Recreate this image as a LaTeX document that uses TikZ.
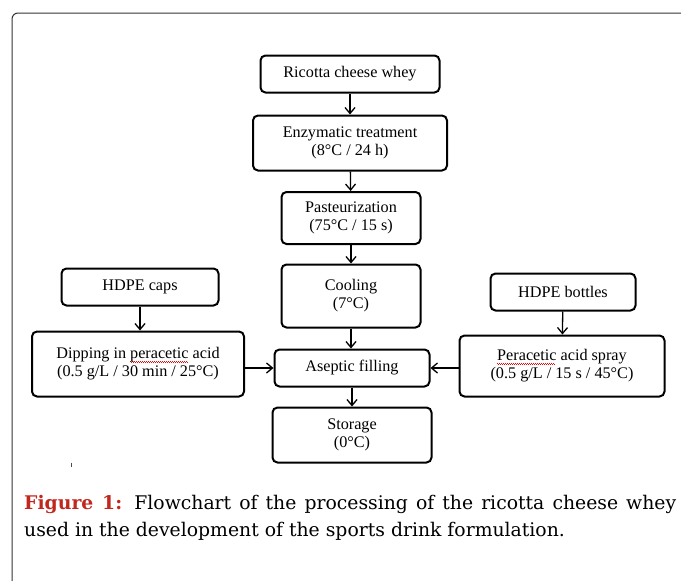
\documentclass[tikz,border=0pt]{standalone}
\usepackage{fontspec}
\setmainfont{Liberation Serif}
\newfontfamily\capfont{DejaVu Serif}
\usepackage{xcolor}
\usetikzlibrary{arrows.meta,positioning}

\definecolor{figred}{RGB}{192,40,30}
\newlength\wavelen
% red spell-check mark under a word
\newcommand\spellwave[1]{\settowidth\wavelen{#1}\leavevmode\rlap{\color{red}\raisebox{-3pt}{\hbox to\wavelen{\leaders\hbox to 2pt{\rule{1pt}{0.5pt}\rule[-0.6pt]{1pt}{0.5pt}}\hfill}}}#1}

\tikzset{
    stepbox/.style={draw, line width=2pt, rounded corners=5pt, align=center, inner sep=0pt,
        font=\fontsize{16.2}{17.8}\selectfont},
    flow/.style={-{Straight Barb[length=6pt,width=10pt]}, line width=1.3pt},
}

\begin{document}
\begin{tikzpicture}[x=1pt, y=-1pt]
    \useasboundingbox (0,0) rectangle (681,581);
    % Frame
    \draw[black!80, line width=1pt, rounded corners=6pt] (690,13) -- (12,13) -- (12,590);

    % Main line
    \node[stepbox, minimum width=179pt, minimum height=37pt] (whey) at (350,74) {Ricotta cheese whey};
    \node[stepbox, minimum width=194pt, minimum height=55pt] (enzyme) at (350,143) {Enzymatic treatment\\(8°C / 24 h)};
    \node[stepbox, minimum width=139pt, minimum height=52pt] (pasteur) at (351,218) {Pasteurization\\(75°C / 15 s)};
    \node[stepbox, minimum width=139pt, minimum height=63pt] (cooling) at (351,296) {Cooling\\(7°C)};
    \node[stepbox, minimum width=155pt, minimum height=37pt] (filling) at (352,368) {Aseptic filling};
    \node[stepbox, minimum width=159pt, minimum height=55pt] (storage) at (352,435) {Storage\\(0°C)};

    % Caps and bottles
    \node[stepbox, minimum width=157pt, minimum height=37pt] (caps) at (140,287) {HDPE caps};
    \node[stepbox, minimum width=212pt, minimum height=65pt] (dipping) at (138,364) {Dipping in \spellwave{peracetic} acid\\(0.5 g/L / 30 min / 25°C)};
    \node[stepbox, minimum width=145pt, minimum height=37pt] (bottles) at (563,292) {HDPE bottles};
    \node[stepbox, minimum width=205pt, minimum height=61pt] (spray) at (562,366) {\spellwave{Peracetic} acid spray\\(0.5 g/L / 15 s / 45°C)};

    % Arrows
    \draw[flow] (whey) -- (enzyme);
    \draw[flow] (enzyme) -- (pasteur);
    \draw[flow] (pasteur) -- (cooling);
    \draw[flow] (cooling) -- (cooling |- filling.north);
    \draw[flow] (filling) -- (storage);
    \draw[flow] (caps) -- (caps |- dipping.north);
    \draw[flow] (bottles) -- (spray);
    \draw[flow] (filling -| dipping.east) -- (filling);
    \draw[flow] (filling -| spray.west) -- (filling);

    % stray mark
    \draw[black!70, line width=1pt] (71,462.5) -- (71,467);

    % Caption
    \node[anchor=north west, text width=652pt, align=justify, inner sep=0pt, font=\capfont\fontsize{18.8}{26.7}\selectfont] (caption) at (24,495.5)
        {\textcolor{figred}{\textbf{Figure 1:}} Flowchart of the processing of the ricotta cheese whey\linebreak used in the development of the sports drink formulation.};
\end{tikzpicture}
\end{document}
